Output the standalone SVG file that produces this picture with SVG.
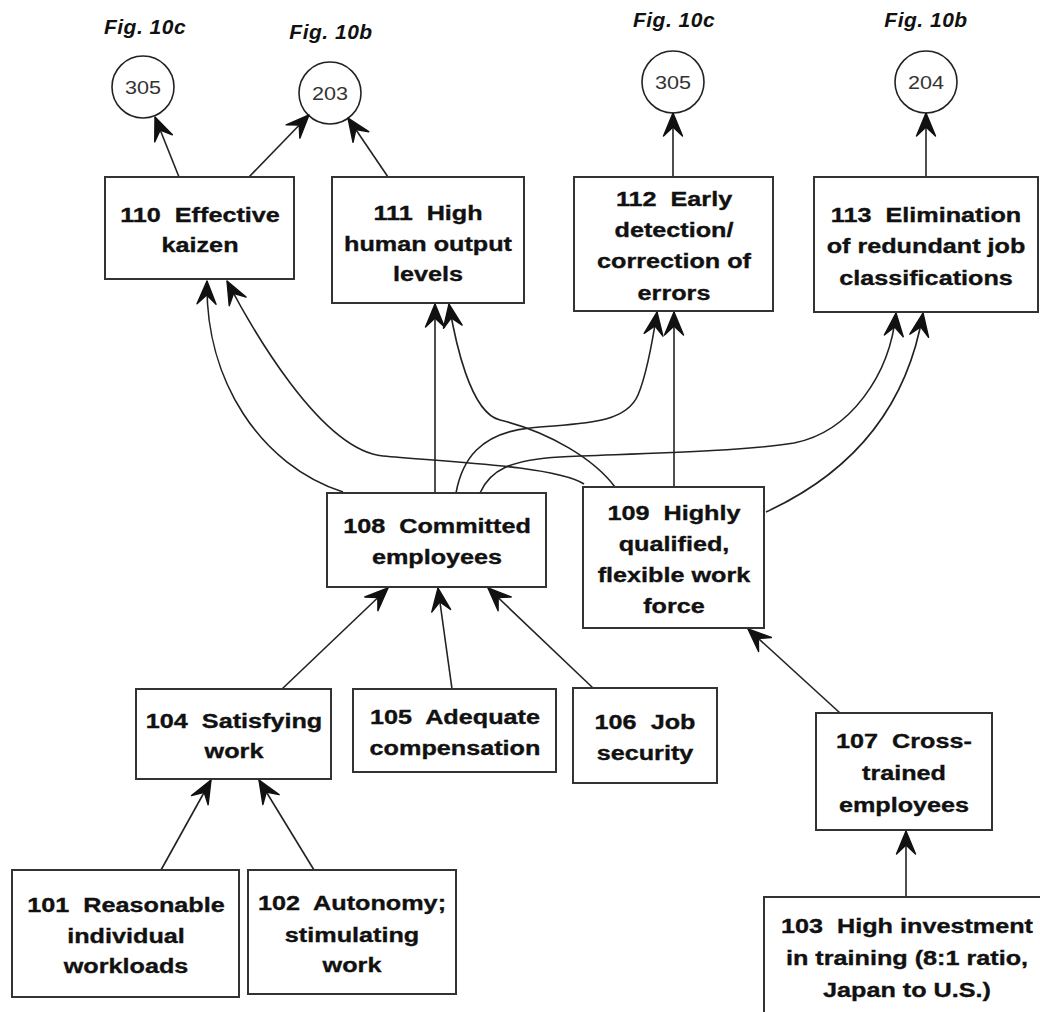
<svg xmlns="http://www.w3.org/2000/svg" width="1040" height="1012" viewBox="0 0 1040 1012">
  <style>
    .box { fill: #fff; stroke: #333; stroke-width: 2; }
    .ref { fill: #fff; stroke: #222; stroke-width: 1.6; }
    .t { font-family: "Liberation Sans", Arial, sans-serif; font-weight: bold; font-size: 21px; text-anchor: middle; fill: #111; stroke: #111; stroke-width: 0.35; }
    .num { font-family: "Liberation Sans", Arial, sans-serif; font-size: 18px; text-anchor: middle; fill: #333; }
    .fig { font-family: "Liberation Sans", Arial, sans-serif; font-weight: bold; font-style: italic; font-size: 21px; letter-spacing: 0.5px; text-anchor: middle; fill: #111; }
    .edge { fill: none; stroke: #222; stroke-width: 1.6; marker-end: url(#barb); }
  </style>
  <defs>
    <marker id="barb" viewBox="-26 -12 28 24" refX="0" refY="0" markerWidth="28" markerHeight="24" markerUnits="userSpaceOnUse" orient="auto" overflow="visible">
      <path d="M0,0 L-23,-9.5 L-14,0 L-23,9.5 Z" fill="#111" stroke="#111" stroke-width="1.4" stroke-linejoin="round"/>
    </marker>
  </defs>
  <rect width="1040" height="1012" fill="#fff"/>

  <!-- off-page references -->
  <g id="ref-305a">
    <text class="fig" x="145" y="34">Fig. 10c</text>
    <circle class="ref" cx="143" cy="87" r="31"/>
    <text class="num" transform="translate(143,94) scale(1.2,1)">305</text>
  </g>
  <g id="ref-203">
    <text class="fig" x="331" y="39">Fig. 10b</text>
    <circle class="ref" cx="330" cy="93" r="31"/>
    <text class="num" transform="translate(330,100) scale(1.2,1)">203</text>
  </g>
  <g id="ref-305b">
    <text class="fig" x="674" y="27">Fig. 10c</text>
    <circle class="ref" cx="673" cy="82" r="31"/>
    <text class="num" transform="translate(673,89) scale(1.2,1)">305</text>
  </g>
  <g id="ref-204">
    <text class="fig" x="926" y="27">Fig. 10b</text>
    <circle class="ref" cx="926" cy="82" r="31"/>
    <text class="num" transform="translate(926,89) scale(1.2,1)">204</text>
  </g>

  <!-- connectors -->
  <g id="connectors">
    <path class="edge" d="M179,177 L155,117"/>
    <path class="edge" d="M249,177 L309,115"/>
    <path class="edge" d="M388,177 L348,118"/>
    <path class="edge" d="M673,177 L673,113"/>
    <path class="edge" d="M926,177 L926,113"/>

    <path class="edge" d="M343,492 C260,465 205,380 207,281"/>
    <path class="edge" d="M584,484 C555,466 450,462 383,456 C320,450 250,325 227,281"/>
    <path class="edge" d="M435,493 L435,304"/>
    <path class="edge" d="M615,487 C595,460 550,432 500,420 C470,413 455,340 449,304"/>
    <path class="edge" d="M456,493 C462,460 480,433 530,428 C580,423 625,425 638,395 C646,376 652,345 657,312"/>
    <path class="edge" d="M480,493 C490,470 510,460 560,457 C620,454 740,452 794,443 C850,432 890,375 896,313"/>
    <path class="edge" d="M674,487 L674,312"/>
    <path class="edge" d="M766,512 C840,478 905,420 923,313"/>

    <path class="edge" d="M282,689 L388,588"/>
    <path class="edge" d="M452,689 L438,588"/>
    <path class="edge" d="M593,688 L488,588"/>
    <path class="edge" d="M840,713 L748,629"/>
    <path class="edge" d="M906,897 L906,831"/>
    <path class="edge" d="M161,870 L211,780"/>
    <path class="edge" d="M314,870 L259,780"/>
  </g>

  <!-- nodes (labels set in a widened bold sans) -->
  <g id="n110">
    <rect class="box" x="105" y="177" width="189" height="102"/>
    <text class="t" transform="translate(200,222) scale(1.2,1)">110&#160; Effective</text>
    <text class="t" transform="translate(200,252) scale(1.2,1)">kaizen</text>
  </g>
  <g id="n111">
    <rect class="box" x="332" y="177" width="192" height="126"/>
    <text class="t" transform="translate(428,220) scale(1.2,1)">111&#160; High</text>
    <text class="t" transform="translate(428,251) scale(1.2,1)">human output</text>
    <text class="t" transform="translate(428,281) scale(1.2,1)">levels</text>
  </g>
  <g id="n112">
    <rect class="box" x="574" y="177" width="199" height="134"/>
    <text class="t" transform="translate(674,206) scale(1.2,1)">112&#160; Early</text>
    <text class="t" transform="translate(674,237) scale(1.2,1)">detection/</text>
    <text class="t" transform="translate(674,268) scale(1.2,1)">correction of</text>
    <text class="t" transform="translate(674,300) scale(1.2,1)">errors</text>
  </g>
  <g id="n113">
    <rect class="box" x="814" y="177" width="224" height="135"/>
    <text class="t" transform="translate(926,222) scale(1.2,1)">113&#160; Elimination</text>
    <text class="t" transform="translate(926,253) scale(1.2,1)">of redundant job</text>
    <text class="t" transform="translate(926,285) scale(1.2,1)">classifications</text>
  </g>
  <g id="n108">
    <rect class="box" x="327" y="493" width="219" height="94"/>
    <text class="t" transform="translate(437,533) scale(1.2,1)">108&#160; Committed</text>
    <text class="t" transform="translate(437,564) scale(1.2,1)">employees</text>
  </g>
  <g id="n109">
    <rect class="box" x="583" y="487" width="181" height="141"/>
    <text class="t" transform="translate(674,520) scale(1.2,1)">109&#160; Highly</text>
    <text class="t" transform="translate(674,551) scale(1.2,1)">qualified,</text>
    <text class="t" transform="translate(674,582) scale(1.2,1)">flexible work</text>
    <text class="t" transform="translate(674,613) scale(1.2,1)">force</text>
  </g>
  <g id="n104">
    <rect class="box" x="136" y="689" width="195" height="90"/>
    <text class="t" transform="translate(234,728) scale(1.2,1)">104&#160; Satisfying</text>
    <text class="t" transform="translate(234,758) scale(1.2,1)">work</text>
  </g>
  <g id="n105">
    <rect class="box" x="353" y="689" width="203" height="83"/>
    <text class="t" transform="translate(455,724) scale(1.2,1)">105&#160; Adequate</text>
    <text class="t" transform="translate(455,755) scale(1.2,1)">compensation</text>
  </g>
  <g id="n106">
    <rect class="box" x="573" y="688" width="144" height="95"/>
    <text class="t" transform="translate(645,729) scale(1.2,1)">106&#160; Job</text>
    <text class="t" transform="translate(645,760) scale(1.2,1)">security</text>
  </g>
  <g id="n107">
    <rect class="box" x="816" y="713" width="176" height="117"/>
    <text class="t" transform="translate(904,748) scale(1.2,1)">107&#160; Cross-</text>
    <text class="t" transform="translate(904,780) scale(1.2,1)">trained</text>
    <text class="t" transform="translate(904,812) scale(1.2,1)">employees</text>
  </g>
  <g id="n101">
    <rect class="box" x="12" y="870" width="227" height="127"/>
    <text class="t" transform="translate(126,912) scale(1.2,1)">101&#160; Reasonable</text>
    <text class="t" transform="translate(126,943) scale(1.2,1)">individual</text>
    <text class="t" transform="translate(126,973) scale(1.2,1)">workloads</text>
  </g>
  <g id="n102">
    <rect class="box" x="248" y="870" width="208" height="124"/>
    <text class="t" transform="translate(352,910) scale(1.2,1)">102&#160; Autonomy;</text>
    <text class="t" transform="translate(352,942) scale(1.2,1)">stimulating</text>
    <text class="t" transform="translate(352,972) scale(1.2,1)">work</text>
  </g>
  <g id="n103">
    <rect class="box" x="764" y="897" width="300" height="140"/>
    <text class="t" transform="translate(907,933) scale(1.2,1)">103&#160; High investment</text>
    <text class="t" transform="translate(907,965) scale(1.2,1)">in training (8:1 ratio,</text>
    <text class="t" transform="translate(907,997) scale(1.2,1)">Japan to U.S.)</text>
  </g>
</svg>
